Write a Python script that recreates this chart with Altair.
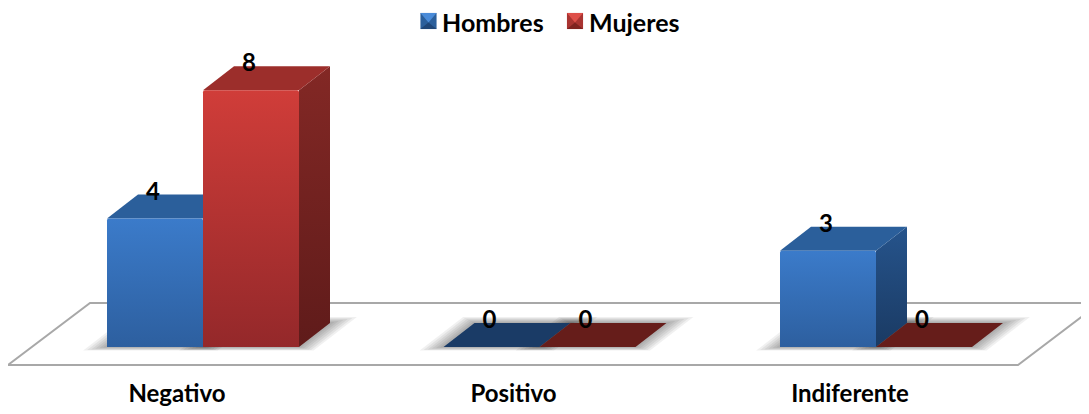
import altair as alt
import pandas as pd

categories = ["Negativo", "Positivo", "Indiferente"]
series = ["Hombres", "Mujeres"]
hombres = [4, 0, 3]
mujeres = [8, 0, 0]

FONT = "Lato"
PX_X = 336.5      # pixels per category step
PX_Y = 32.1       # pixels per value unit
BW = 96 / PX_X    # bar width
DX = 31 / PX_X    # depth, x
DY = 24 / PX_Y    # depth, y

# scales: category units horizontally, value units vertically
x_scale = alt.Scale(domain=[(8 - 107) / PX_X, (1081 - 107) / PX_X], nice=False, zero=False)
y_scale = alt.Scale(domain=[-59 / PX_Y, 339 / PX_Y], nice=False, zero=False)
X = lambda f="x": alt.X(f, type="quantitative", scale=x_scale, axis=None)
Y = lambda f="y": alt.Y(f, type="quantitative", scale=y_scale, axis=None)

rows = []
for s, vals in enumerate([hombres, mujeres]):
    for c, v in enumerate(vals):
        rows.append(dict(id=f"{s}{c}", series=series[s], cat=categories[c], v=v,
                         x0=c + s * BW, x1=c + s * BW + BW))
bars = pd.DataFrame(rows)


def grad(top, bottom):
    return alt.LinearGradient(gradient="linear", x1=0, y1=0, x2=0, y2=1,
                              stops=[alt.GradientStop(color=top, offset=0),
                                     alt.GradientStop(color=bottom, offset=1)])


# floor outline
fl = 82 / PX_X
fx0, fx1 = (8 - 107) / PX_X, (1018 - 107) / PX_X
fy0, fy1 = -18 / PX_Y, 44 / PX_Y
floor_df = pd.DataFrame({"x": [fx0, fx1, fx1 + fl, fx0 + fl, fx0],
                         "y": [fy0, fy0, fy1, fy1, fy0],
                         "o": [0, 1, 2, 3, 4]})
floor = alt.Chart(floor_df).mark_line(color="#a8a8a8", strokeWidth=2, clip=True).encode(
    x=X(), y=Y(), order="o:O")

# soft shadows under every bar
sh = []
for _, b in bars.iterrows():
    for k in range(1, 7):
        ex = k * 3.2 / PX_X
        eb = k * 0.6 / PX_Y
        et = k * 1.0 / PX_Y
        for y, shift in ((-eb, -eb / DY * DX), (DY + et, DX + et / DY * DX)):
            sh.append(dict(id=f"{b.id}{k}", y=y, a=b.x0 + shift - ex, b=b.x1 + shift + ex))
shadow = alt.Chart(pd.DataFrame(sh)).mark_area(orient="horizontal", color="#000000", opacity=0.06).encode(
    y=Y(), x=X("a"), x2="b:Q", detail="id:N")

# side faces
side_rows = []
for _, b in bars[bars.v > 0].iterrows():
    side_rows.append(dict(id=b.id, series=b.series, x=b.x1, lo=0, hi=b.v))
    side_rows.append(dict(id=b.id, series=b.series, x=b.x1 + DX, lo=DY, hi=b.v + DY))
side_df = pd.DataFrame(side_rows)


def side(name, top, bottom):
    return alt.Chart(side_df[side_df.series == name]).mark_area(
        color=grad(top, bottom), orient="vertical").encode(
        x=X(), y=Y("lo"), y2="hi:Q", detail="id:N")


# top faces
top_rows = []
for _, b in bars.iterrows():
    top_rows.append(dict(id=b.id, series=b.series, v=b.v, y=b.v, a=b.x0, b=b.x1))
    top_rows.append(dict(id=b.id, series=b.series, v=b.v, y=b.v + DY, a=b.x0 + DX, b=b.x1 + DX))
top_df = pd.DataFrame(top_rows)

tops = alt.Chart(top_df[top_df.v > 0]).mark_area(orient="horizontal").encode(
    y=Y(), x=X("a"), x2="b:Q", detail="id:N",
    color=alt.Color("series:N", scale=alt.Scale(domain=series, range=["#2b5f9b", "#9c2e2b"]),
                    legend=alt.Legend(title=None, orient="none", direction="horizontal",
                                      legendX=408, legendY=3, symbolType="square", symbolSize=260,
                                      symbolStrokeWidth=0, symbolOpacity=0, labelFont=FONT,
                                      labelFontSize=25, labelFontWeight="bold", labelColor="#000000",
                                      labelOffset=1, columnPadding=19, labelLimit=200)))
zero_tops = alt.Chart(top_df[top_df.v == 0]).mark_area(orient="horizontal").encode(
    y=Y(), x=X("a"), x2="b:Q", detail="id:N",
    color=alt.Color("series:N", scale=alt.Scale(domain=series, range=["#1a3b66", "#661d1a"]), legend=None))


def front(name, top, bottom):
    return alt.Chart(bars[(bars.series == name) & (bars.v > 0)]).mark_bar(
        color=grad(top, bottom), cornerRadiusTopLeft=2, cornerRadiusTopRight=2).encode(
        x=X("x0"), x2="x1:Q", y=Y("v"), y2=alt.Y2(datum=0))


# value labels
lab = bars.assign(lx=bars.x0 + BW / 2 - 2 / PX_X, ly=bars.v + DY, txt=bars.v.astype(str))
labels = alt.Chart(lab).mark_text(font=FONT, fontSize=24, fontWeight="bold", color="#000000",
                                  baseline="middle", dy=-2).encode(
    x=X("lx"), y=Y("ly"), text="txt:N")

# category labels
cat_df = pd.DataFrame({"cat": categories, "x": [i + BW - 26 / PX_X for i in range(3)], "y": [-48 / PX_Y] * 3})
cats = alt.Chart(cat_df).mark_text(font=FONT, fontSize=24, fontWeight="bold", color="#000000",
                                   baseline="middle").encode(x=X(), y=Y(), text="cat:N")

# bevelled legend keys
key_row = pd.DataFrame({"k": [0]})
PATH_SQ = "M -0.5 -0.5 L 0.5 -0.5 L 0.5 0.5 L -0.5 0.5 Z"
PATH_TOP = "M -0.5 -0.5 L 0.5 -0.5 L 0 0.1 Z"
PATH_BOT = "M -0.5 0.5 L 0.5 0.5 L 0 0.1 Z"


def key(px, mid, top, bottom):
    base = alt.Chart(key_row)
    return [base.mark_point(shape=p, filled=True, size=1040, opacity=1, color=c).encode(
                x=alt.value(px), y=alt.value(13), detail="k:O")
            for p, c in ((PATH_SQ, mid), (PATH_TOP, top), (PATH_BOT, bottom))]


chart = alt.layer(
    floor, shadow,
    side("Hombres", "#26548c", "#1a3a63"),
    side("Mujeres", "#832825", "#5f1b1a"),
    tops, zero_tops,
    front("Hombres", "#3b7bca", "#2d5f9f"),
    front("Mujeres", "#d03d39", "#94282a"),
    labels, cats,
    *key(420.5, "#2b5f9b", "#4a8bd8", "#1f4677"),
    *key(567, "#a93431", "#de4f49", "#7f2320"),
).resolve_scale(color="independent").properties(
    width=1073, height=398, padding=0, autosize="none", background="#ffffff",
).configure_view(stroke=None)

chart.save("out.html", embed_options={"renderer": "svg", "actions": False})
